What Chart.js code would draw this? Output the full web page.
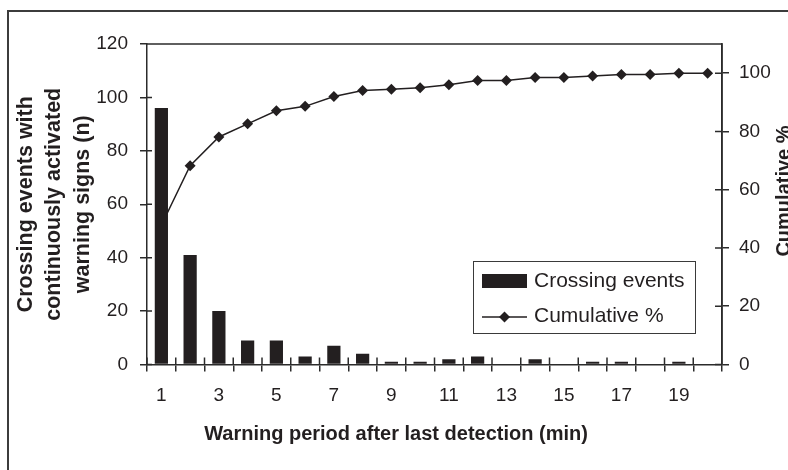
<!DOCTYPE html>
<html>
<head>
<meta charset="utf-8">
<script src="https://cdn.jsdelivr.net/npm/chart.js@4.4.1/dist/chart.umd.min.js"></script>
<style>
  html, body { margin: 0; padding: 0; background: #fff; overflow: hidden; }
  #wrap { position: relative; width: 788px; height: 470px; }
  #frame { position: absolute; left: 7px; top: 10px; width: 900px; height: 600px; border: 2px solid #3c3c3c; box-sizing: border-box; }
  canvas { position: absolute; left: 0; top: 0; }
</style>
</head>
<body>
<div id="wrap">
  <div id="frame"></div>
  <canvas id="chart" width="788" height="470"></canvas>
</div>
<script>
// warning period (min) after last detection
const minutes = ['1', '2', '3', '4', '5', '6', '7', '8', '9', '10',
                 '11', '12', '13', '14', '15', '16', '17', '18', '19', '20'];
const crossingEvents = [96, 41, 20, 9, 9, 3, 7, 4, 1, 1, 2, 3, 0, 2, 0, 1, 1, 0, 1, 0];
const cumulativePct = [47.8, 68.2, 78.1, 82.6, 87.1, 88.6, 92.0, 94.0, 94.5, 95.0,
                       96.0, 97.5, 97.5, 98.5, 98.5, 99.0, 99.5, 99.5, 100, 100];
const countTicks = [0, 20, 40, 60, 80, 100, 120];
const pctTicks = [0, 20, 40, 60, 80, 100];
const xTitle = 'Warning period after last detection (min)';
const y2Title = 'Cumulative %';

const ink = '#231f20';
const axisColor = '#2b2b2b';
const family = '"Liberation Sans", Arial, sans-serif';
Chart.defaults.font.family = family;
Chart.defaults.color = ink;

function diamond(ctx, x, y, r) {
    ctx.beginPath();
    ctx.moveTo(x, y - r);
    ctx.lineTo(x + r, y);
    ctx.lineTo(x, y + r);
    ctx.lineTo(x - r, y);
    ctx.closePath();
    ctx.fill();
}

// plot frame, inner half of the crossing tick marks, legend, titles that sit off-centre
const extras = {
    id: 'extras',
    afterDraw(chart) {
        const ctx = chart.ctx;
        const a = chart.chartArea;
        const xs = chart.scales.x, yl = chart.scales.y, yr = chart.scales.y2;
        ctx.save();
        ctx.strokeStyle = axisColor;
        ctx.lineWidth = 1.5;
        ctx.beginPath();
        ctx.moveTo(a.left, a.top);
        ctx.lineTo(a.right, a.top);
        ctx.lineTo(a.right, a.bottom);
        for (let i = 0; i <= minutes.length; i++) {
            const x = xs.getPixelForValue(i - 0.5);
            ctx.moveTo(x, a.bottom);
            ctx.lineTo(x, a.bottom - 7);
        }
        yl.ticks.forEach((t, i) => {
            const y = yl.getPixelForTick(i);
            ctx.moveTo(a.left, y);
            ctx.lineTo(a.left + 5, y);
        });
        yr.ticks.forEach((t, i) => {
            const y = yr.getPixelForTick(i);
            ctx.moveTo(a.right, y);
            ctx.lineTo(a.right - 7, y);
        });
        ctx.stroke();

        // legend box
        const lx = a.right - 249, ly = a.top + 217, lw = 222, lh = 72;
        ctx.fillStyle = '#fff';
        ctx.fillRect(lx, ly, lw, lh);
        ctx.lineWidth = 1;
        ctx.strokeStyle = '#3a3a3a';
        ctx.strokeRect(lx + 0.5, ly + 0.5, lw, lh);
        ctx.fillStyle = ink;
        ctx.fillRect(lx + 9, ly + 13, 45, 14);
        ctx.strokeStyle = ink;
        ctx.lineWidth = 1.5;
        ctx.beginPath();
        ctx.moveTo(lx + 9, ly + 56);
        ctx.lineTo(lx + 54, ly + 56);
        ctx.stroke();
        diamond(ctx, lx + 31.5, ly + 56, 5.5);
        ctx.font = '21px ' + family;
        ctx.textBaseline = 'middle';
        ctx.textAlign = 'left';
        ctx.fillText(chart.data.datasets[0].label, lx + 61, ly + 20);
        ctx.fillText(chart.data.datasets[1].label, lx + 61, ly + 55);

        // x axis title, sits left of the plot centre in the original
        ctx.font = 'bold 20px ' + family;
        ctx.textAlign = 'center';
        ctx.fillText(xTitle, 396, 434);

        // secondary axis title, runs off the right edge like the original
        ctx.translate(790, 191);
        ctx.rotate(-Math.PI / 2);
        ctx.textBaseline = 'alphabetic';
        ctx.fillText(y2Title, 0, 0);
        ctx.restore();
    }
};

new Chart(document.getElementById('chart'), {
    type: 'bar',
    data: {
        labels: minutes,
        datasets: [{
            type: 'bar',
            label: 'Crossing events',
            data: crossingEvents,
            backgroundColor: ink,
            categoryPercentage: 1,
            barPercentage: 0.46,
            yAxisID: 'y',
            order: 0
        }, {
            type: 'line',
            label: 'Cumulative %',
            data: cumulativePct,
            borderColor: ink,
            backgroundColor: ink,
            borderWidth: 1.5,
            pointStyle: 'rectRot',
            pointRadius: 5.5,
            pointBorderWidth: 0,
            tension: 0,
            yAxisID: 'y2',
            order: 1
        }]
    },
    options: {
        responsive: false,
        animation: false,
        layout: { padding: { top: 44, left: 0, right: 0, bottom: 0 } },
        plugins: {
            legend: { display: false },
            tooltip: { enabled: false }
        },
        scales: {
            x: {
                offset: true,
                grid: { display: true, drawOnChartArea: false, tickLength: 7, color: axisColor, lineWidth: 1.5 },
                border: { color: axisColor, width: 1.5 },
                ticks: {
                    autoSkip: false,
                    maxRotation: 0,
                    padding: 13,
                    font: { size: 19 },
                    callback: (v, i) => (i % 2 === 0 ? minutes[i] : '')
                },
                afterFit: s => { s.height = 105.5; }
            },
            y: {
                position: 'left',
                min: 0,
                max: 120,
                grid: { display: true, drawOnChartArea: false, tickLength: 7, color: axisColor, lineWidth: 1.5 },
                border: { color: axisColor, width: 1.5 },
                ticks: { stepSize: 20, padding: 12, font: { size: 19 } },
                afterBuildTicks: s => { s.ticks = countTicks.map(v => ({ value: v })); },
                title: {
                    display: true,
                    text: ['Crossing events with', 'continuously activated', 'warning signs (n)'],
                    font: { size: 21.5, weight: 'bold', lineHeight: 1.32 },
                    padding: { top: 12, bottom: 0 }
                },
                afterFit: s => { s.width = 147; }
            },
            y2: {
                position: 'right',
                min: 0,
                max: 110,
                grid: { display: true, drawOnChartArea: false, tickLength: 7, color: axisColor, lineWidth: 1.5 },
                border: { color: axisColor, width: 1.5 },
                ticks: { padding: 10, font: { size: 19 } },
                afterBuildTicks: s => { s.ticks = pctTicks.map(v => ({ value: v })); },
                afterFit: s => { s.width = 66; }
            }
        }
    },
    plugins: [extras]
});
</script>
</body>
</html>
